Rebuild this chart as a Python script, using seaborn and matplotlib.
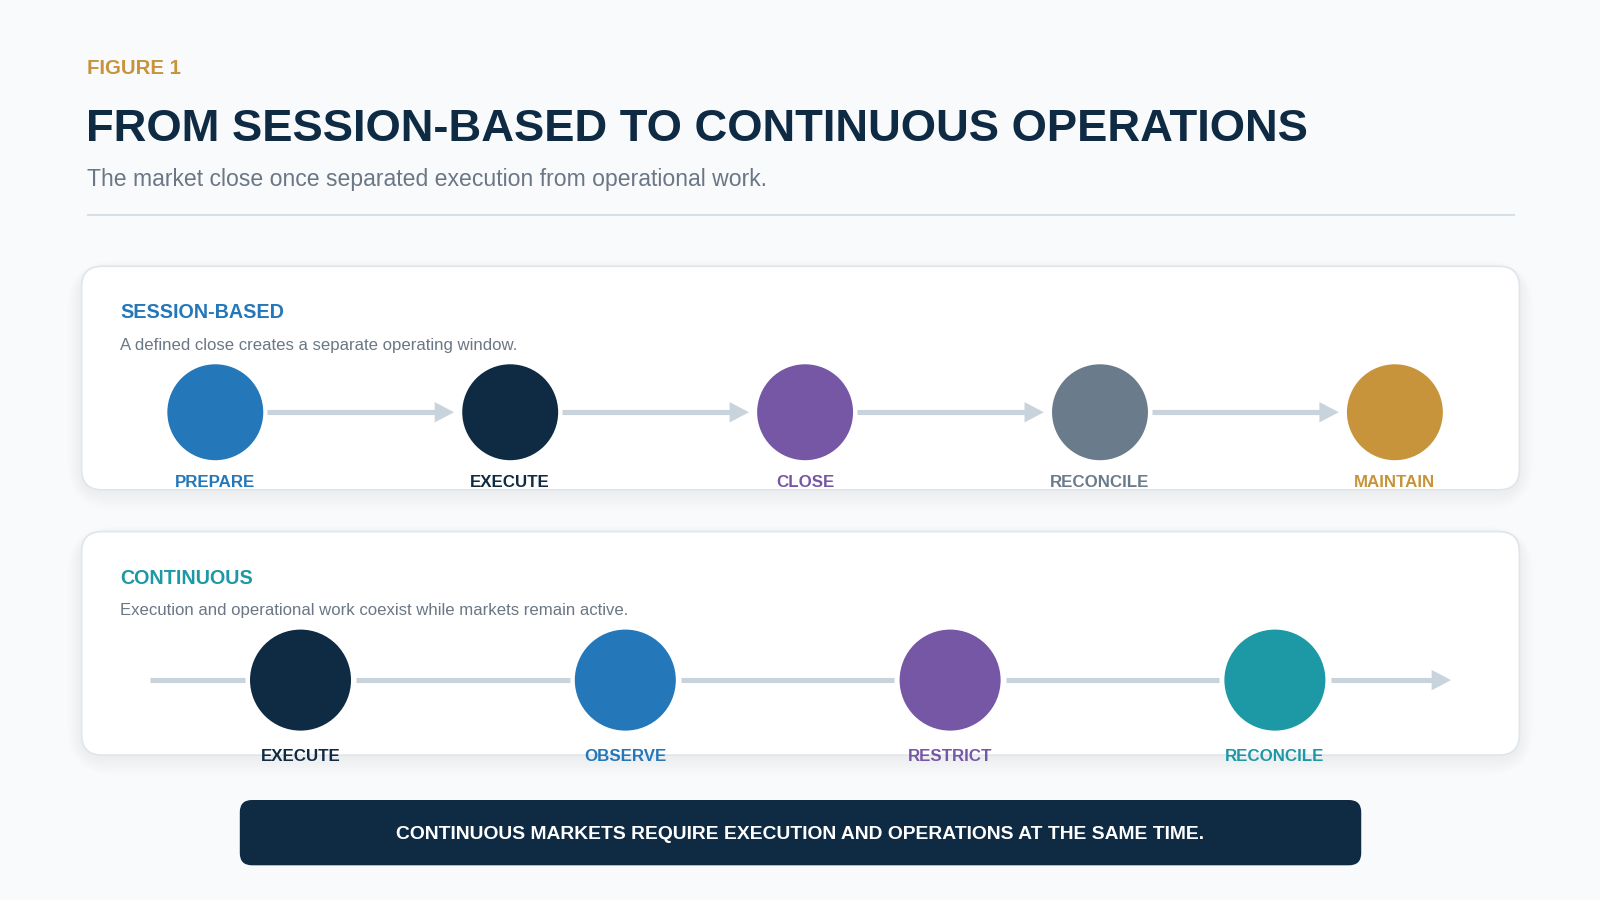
import matplotlib.pyplot as plt
import seaborn as sns
import numpy as np
from matplotlib.patches import Circle, FancyBboxPatch, Polygon

# --- content ---
figure_tag = "FIGURE 1"
title = "FROM SESSION-BASED TO CONTINUOUS OPERATIONS"
subtitle = "The market close once separated execution from operational work."

session_title = "SESSION-BASED"
session_desc = "A defined close creates a separate operating window."
session_stages = ["PREPARE", "EXECUTE", "CLOSE", "RECONCILE", "MAINTAIN"]
session_colors = ["#2477b8", "#0f2a43", "#7557a6", "#6a7b8b", "#c7943b"]

continuous_title = "CONTINUOUS"
continuous_desc = "Execution and operational work coexist while markets remain active."
continuous_stages = ["EXECUTE", "OBSERVE", "RESTRICT", "RECONCILE"]
continuous_colors = ["#0f2a43", "#2477b8", "#7557a6", "#1c99a4"]

banner_text = "CONTINUOUS MARKETS REQUIRE EXECUTION AND OPERATIONS AT THE SAME TIME."

BG = "#f8fafc"
NAVY = "#0f2a43"
GOLD = "#c7943b"
GREY = "#6b7785"
CONNECT = "#c9d3dc"

W, H = 1568, 882
PT = 1600 / W * 0.72  # points per canvas unit


def panel(ax, x, y, w, h):
    # soft shadow
    for i in range(12):
        g = 2 + i * 2.4
        ax.add_patch(FancyBboxPatch((x - g * 0.5, y + 3 - g * 0.3), w + g, h + g * 0.9,
                                    boxstyle=f"round,pad=0,rounding_size={20 + g}",
                                    fc="#1c2b3a", ec="none", alpha=0.004, zorder=1))
    ax.add_patch(FancyBboxPatch((x, y), w, h, boxstyle="round,pad=0,rounding_size=20",
                                fc="white", ec="#dfe5eb", lw=1.6 * PT, zorder=2))


def arrow_head(ax, tip_x, y, length=19, half=10):
    ax.add_patch(Polygon([[tip_x, y], [tip_x - length, y - half], [tip_x - length, y + half]],
                         closed=True, fc=CONNECT, ec="none", zorder=3))


def draw():
    sns.set_theme(style="white")
    plt.rcParams["font.family"] = ["Liberation Sans", "DejaVu Sans"]

    fig = plt.figure(figsize=(16, 9), dpi=100, facecolor=BG)
    ax = fig.add_axes([0, 0, 1, 1])
    ax.set_xlim(0, W)
    ax.set_ylim(H, 0)
    ax.set_facecolor(BG)
    ax.axis("off")

    # header
    ax.text(85, 73, figure_tag, color=GOLD, fontsize=14.7, fontweight="bold", va="baseline")
    ax.text(84, 138, title, color=NAVY, fontsize=32.7, fontweight="bold", va="baseline")
    ax.text(85, 182, subtitle, color=GREY, fontsize=16.6, va="baseline")
    ax.plot([85, 1485], [210.5, 210.5], color="#d6dee6", lw=2 * PT, solid_capstyle="butt", zorder=2)

    # session-based panel
    panel(ax, 80, 261, 1409, 219)
    ax.text(118, 312, session_title, color=session_colors[0], fontsize=14.2,
            fontweight="bold", va="baseline", zorder=4)
    ax.text(118, 343, session_desc, color=GREY, fontsize=12.1, va="baseline", zorder=4)

    r1, cy1 = 47, 404
    xs1 = 211 + 289 * np.arange(len(session_stages))
    for i, (name, col) in enumerate(zip(session_stages, session_colors)):
        x = xs1[i]
        ax.add_patch(Circle((x, cy1), r1, fc=col, ec="none", zorder=4))
        ax.text(x, 477, name, color=col, fontsize=12.2, fontweight="bold",
                ha="center", va="baseline", zorder=4)
        if i < len(xs1) - 1:
            tip = xs1[i + 1] - r1 - 8
            ax.plot([x + r1 + 4, tip - 12], [cy1, cy1], color=CONNECT, lw=5 * PT,
                    solid_capstyle="butt", zorder=3)
            arrow_head(ax, tip, cy1)

    # continuous panel
    panel(ax, 80, 521, 1409, 219)
    ax.text(118, 572, continuous_title, color=continuous_colors[3], fontsize=14.2,
            fontweight="bold", va="baseline", zorder=4)
    ax.text(118, 603, continuous_desc, color=GREY, fontsize=12.1, va="baseline", zorder=4)

    r2, cy2 = 49.5, 666.5
    xs2 = 294.5 + 318.3 * np.arange(len(continuous_stages))
    seg_start = 147
    for i, (name, col) in enumerate(zip(continuous_stages, continuous_colors)):
        x = xs2[i]
        ax.plot([seg_start, x - r2 - 5], [cy2, cy2], color=CONNECT, lw=5 * PT,
                solid_capstyle="butt", zorder=3)
        seg_start = x + r2 + 5
        ax.add_patch(Circle((x, cy2), r2, fc=col, ec="none", zorder=4))
        ax.text(x, 746, name, color=col, fontsize=12.2, fontweight="bold",
                ha="center", va="baseline", zorder=4)
    ax.plot([seg_start, 1406], [cy2, cy2], color=CONNECT, lw=5 * PT,
            solid_capstyle="butt", zorder=3)
    arrow_head(ax, 1422, cy2)

    # banner
    ax.add_patch(FancyBboxPatch((235, 784), 1099, 64, boxstyle="round,pad=0,rounding_size=12",
                                fc=NAVY, ec="none", zorder=4))
    ax.text(784.5, 822, banner_text, color="white", fontsize=13.9, fontweight="bold",
            ha="center", va="baseline", zorder=5)

    fig.savefig("out.png", dpi=100, facecolor=BG)
    plt.close(fig)


if __name__ == "__main__":
    draw()
